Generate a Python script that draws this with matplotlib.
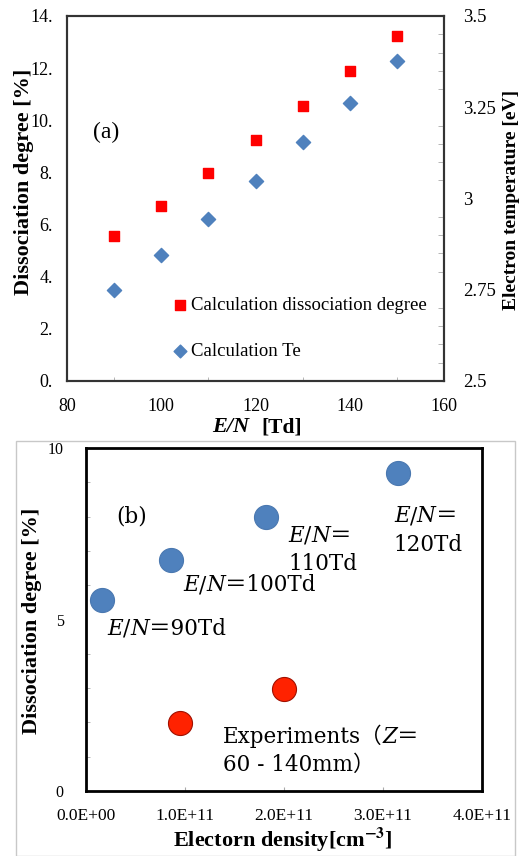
import matplotlib
matplotlib.use('Agg')
import matplotlib.pyplot as plt
from matplotlib.patches import Rectangle

plt.rcParams['font.family'] = ['Liberation Serif', 'Noto Sans CJK JP', 'DejaVu Sans']
plt.rcParams['mathtext.fontset'] = 'stix'
MINCHO = ['DejaVu Serif', 'Noto Sans CJK JP']

W, H = 527, 856

# ---- panel (a) data
en = [90, 100, 110, 120, 130, 140, 150]
diss_calc = [5.56, 6.73, 7.97, 9.23, 10.55, 11.90, 13.23]
te_calc = [2.749, 2.845, 2.945, 3.047, 3.155, 3.263, 3.376]
left_ticks = [0, 2, 4, 6, 8, 10, 12, 14]
left_labels = ['0.', '2.', '4.', '6.', '8.', '10.', '12.', '14.']
right_ticks = [2.5, 2.75, 3.0, 3.25, 3.5]
right_labels = ['2.5', '2.75', '3', '3.25', '3.5']
xa_ticks = [80, 100, 120, 140, 160]

# ---- panel (b) data
ne_calc = [0.16e11, 0.86e11, 1.82e11, 3.15e11]
diss_b = [5.57, 6.74, 8.0, 9.27]
ne_exp = [0.95e11, 2.0e11]
diss_exp = [1.97, 2.98]
xb_ticks = [0, 1e11, 2e11, 3e11, 4e11]
xb_labels = ['0.0E+00', '1.0E+11', '2.0E+11', '3.0E+11', '4.0E+11']
yb_ticks = [0, 5, 10]

# E/N annotations: (first line tail, second line, x, y line1, y line2)
en_notes = [('＝90Td', None, 0.212e11, 4.55, None),
            ('＝100Td', None, 0.98e11, 5.83, None),
            ('＝', '110Td', 2.04e11, 7.26, 6.44),
            ('＝', '120Td', 3.11e11, 7.84, 7.00)]

RED = '#ff0000'
BLUE = '#4f81bd'


def fx(px):
    return px / W


def fy(py):
    return 1 - py / H


def rich(ax, x, y, parts, size):
    # chain text pieces of different style along one baseline
    t = None
    for s, style in parts:
        kw = dict(fontsize=size, fontstyle=style, family=MINCHO)
        if t is None:
            t = ax.text(x, y, s, ha='left', va='baseline', **kw)
        else:
            t = ax.annotate(s, xy=(1, 0), xycoords=t, ha='left', va='bottom', **kw)
    return t


fig = plt.figure(figsize=(W / 100, H / 100), dpi=100)

# ================= panel (a)
ax1 = fig.add_axes([fx(67), fy(381), (444 - 67) / W, (381 - 16) / H])
ax2 = ax1.twinx()
ax1.scatter(en, diss_calc, marker='s', s=62, color=RED, zorder=3,
            label='Calculation dissociation degree')
ax2.scatter(en, te_calc, marker='D', s=52, color=BLUE, zorder=3,
            label='Calculation Te')
ax1.set_xlim(80, 160)
ax1.set_ylim(0, 14)
ax2.set_ylim(2.5, 3.5)
ax1.set_xticks(xa_ticks)
ax1.set_xticks(en, minor=True)
ax1.set_yticks(left_ticks)
ax1.set_yticklabels(left_labels)
ax2.set_yticks(right_ticks)
ax2.set_yticklabels(right_labels)
ax2.set_yticks([2.5 + 0.05 * i for i in range(21)], minor=True)
ax1.tick_params(axis='both', which='major', length=0, labelsize=13)
ax1.tick_params(axis='y', pad=10)
ax1.tick_params(axis='x', pad=12)
ax1.tick_params(axis='x', which='minor', direction='in', length=3, color='#aaaaaa')
ax2.tick_params(axis='y', which='major', length=0, labelsize=13.5, pad=14)
ax2.tick_params(axis='y', which='minor', direction='in', length=4, color='#aaaaaa')
for a in (ax1, ax2):
    for sp in a.spines.values():
        sp.set_color('#333333')
        sp.set_linewidth(1.5)

ax1.text(0.103, 0.682, '(a)', transform=ax1.transAxes, fontsize=17,
         ha='center', va='center')

h1, l1 = ax1.get_legend_handles_labels()
h2, l2 = ax2.get_legend_handles_labels()
ax2.legend(h1 + h2, l1 + l2, loc='upper left', bbox_to_anchor=(0.28, 0.231),
           frameon=False, fontsize=13.5, handlelength=0.8, handletextpad=0.2,
           labelspacing=1.55, borderpad=0, borderaxespad=0, scatterpoints=1,
           markerscale=0.9)

fig.text(fx(24), fy(182), 'Dissociation degree [%]', rotation=90,
         ha='center', va='center', fontsize=16, fontweight='bold')
fig.text(fx(511), fy(200), 'Electron temperature [eV]', rotation=90,
         ha='center', va='center', fontsize=14, fontweight='bold')
fig.text(fx(249), fy(427), 'E/N', ha='right', va='center', fontsize=16,
         fontweight='bold', fontstyle='italic')
fig.text(fx(261), fy(427), '[Td]', ha='left', va='center', fontsize=15.5,
         fontweight='bold')

# ================= panel (b)
fig.patches.append(Rectangle((fx(16), 0), (515 - 16) / W, 1 - 441 / H,
                             transform=fig.transFigure, fill=False,
                             edgecolor='#c8c8c8', linewidth=1, zorder=0))

axb = fig.add_axes([fx(86), fy(791), (482 - 86) / W, (791 - 448) / H])
axb.scatter(ne_calc, diss_b, s=300, color=BLUE, edgecolor='#4a78b0',
            linewidth=0.8, zorder=3)
axb.scatter(ne_exp, diss_exp, s=300, color='#ff2200', edgecolor='#a01000',
            linewidth=0.8, zorder=3)
axb.set_xlim(0, 4e11)
axb.set_ylim(0, 10)
axb.set_xticks(xb_ticks)
axb.set_xticklabels(xb_labels)
axb.set_yticks(yb_ticks)
axb.set_yticks(range(0, 11), minor=True)
axb.tick_params(axis='x', which='major', direction='in', length=3,
                color='#aaaaaa', labelsize=12.5, pad=12)
axb.tick_params(axis='y', which='major', length=0, labelsize=11.5, pad=16)
axb.tick_params(axis='y', which='minor', direction='in', length=3, color='#aaaaaa')
for sp in axb.spines.values():
    sp.set_color('black')
    sp.set_linewidth(2)

for tail, line2, x, y1, y2 in en_notes:
    rich(axb, x, y1, [('E', 'italic'), ('/', 'normal'), ('N', 'italic'),
                      (tail, 'normal')], 15.5)
    if line2:
        axb.text(x, y2, line2, fontsize=15.5, family=MINCHO,
                 ha='left', va='baseline')
axb.text(0.303e11, 7.84, '(b)', fontsize=15.5, family=MINCHO,
         ha='left', va='baseline')
rich(axb, 1.38e11, 1.40, [('Experiments（', 'normal'), ('Z', 'italic'),
                          ('＝', 'normal')], 15.5)
axb.text(1.38e11, 0.58, '60 - 140mm）', fontsize=15.5, family=MINCHO,
         ha='left', va='baseline')

fig.text(fx(32), fy(621), 'Dissociation degree [%]', rotation=90,
         ha='center', va='center', fontsize=16, fontweight='bold')
fig.text(fx(283), fy(847), r'Electorn density[cm$^{\mathbf{-3}}$]',
         ha='center', va='baseline', fontsize=16, fontweight='bold')

fig.savefig('out.png', dpi=100)
